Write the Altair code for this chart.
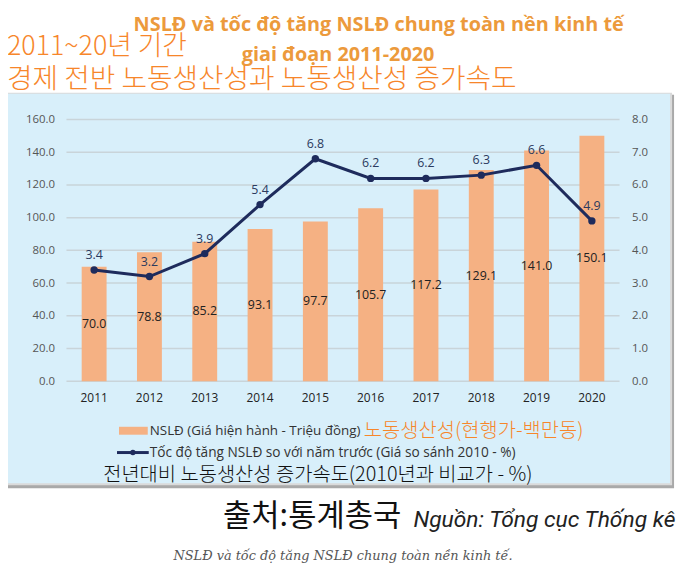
import altair as alt
import pandas as pd

years = ["2011", "2012", "2013", "2014", "2015", "2016", "2017", "2018", "2019", "2020"]
nsld = [70.0, 78.8, 85.2, 93.1, 97.7, 105.7, 117.2, 129.1, 141.0, 150.1]
growth = [3.4, 3.2, 3.9, 5.4, 6.8, 6.2, 6.2, 6.3, 6.6, 4.9]
left_ticks = [0, 20, 40, 60, 80, 100, 120, 140, 160]
right_ticks = [0, 1, 2, 3, 4, 5, 6, 7, 8]

df = pd.DataFrame({"year": years, "nsld": nsld, "growth": growth})
grid_df = pd.DataFrame({"t": left_ticks})

BAR = "#F5B183"
NAVY = "#1E2B5C"
PANEL = "#D8EFFA"
ORANGE_T = "#EC9A3C"
ORANGE_K = "#F7862A"

W, H = 558, 264

xenc = alt.X("year:N", sort=years, title=None,
             scale=alt.Scale(paddingInner=0.55, paddingOuter=0.275),
             axis=alt.Axis(labelAngle=0, ticks=False, domain=False, labelColor="#222",
                           labelFontSize=12, labelPadding=12, labelFont="Open Sans",
                           grid=False, zindex=1))

base = alt.Chart(df)

gridlines = alt.Chart(grid_df).mark_rule(color="#C9D4D9", strokeWidth=1.5).encode(
    y=alt.Y("t:Q", scale=alt.Scale(domain=[0, 160]), axis=None)
)

bars = base.mark_bar(color=BAR).encode(
    x=xenc,
    y=alt.Y("nsld:Q", title=None, scale=alt.Scale(domain=[0, 160]),
            axis=alt.Axis(orient="left", values=left_ticks, format=".1f", ticks=False, domain=False,
                          grid=False, labelColor="#555", labelFontSize=11.5,
                          labelPadding=12, labelFont="Open Sans", zindex=1)),
)

bar_labels = base.transform_calculate(mid="datum.nsld / 2").mark_text(
    fontSize=12.5, color="#222", font="Open Sans"
).encode(
    x=alt.X("year:N", sort=years),
    y=alt.Y("mid:Q", scale=alt.Scale(domain=[0, 160]), axis=None),
    text=alt.Text("nsld:Q", format=".1f"),
)

line = base.mark_line(color=NAVY, strokeWidth=3).encode(
    x=alt.X("year:N", sort=years),
    y=alt.Y("growth:Q", title=None, scale=alt.Scale(domain=[0, 8]),
            axis=alt.Axis(orient="right", values=right_ticks, format=".1f", ticks=False, domain=False,
                          grid=False, labelColor="#555", labelFontSize=11.5, labelPadding=12,
                          labelFont="Open Sans", zindex=1)),
)

points = base.mark_point(filled=True, color=NAVY, size=55, opacity=1).encode(
    x=alt.X("year:N", sort=years),
    y=alt.Y("growth:Q", scale=alt.Scale(domain=[0, 8]), axis=None),
)

line_labels = base.mark_text(fontSize=12.5, color="#2B3A5E", dy=-15, font="Open Sans").encode(
    x=alt.X("year:N", sort=years),
    y=alt.Y("growth:Q", scale=alt.Scale(domain=[0, 8]), axis=None),
    text=alt.Text("growth:Q", format=".1f"),
)

one = pd.DataFrame({"a": [0]})
ann = alt.Chart(one)


def rect(x, x2, y, y2, color):
    return ann.mark_rect(color=color).encode(
        x=alt.value(x), x2=alt.value(x2), y=alt.value(y), y2=alt.value(y2))


def txt(s, x, y, size, color, align="left", font="Open Sans", weight="normal", style="normal"):
    return ann.mark_text(text=s, fontSize=size, color=color, align=align, baseline="middle",
                         font=font, fontWeight=weight, fontStyle=style).encode(
        x=alt.value(x), y=alt.value(y))


shadow = rect(-59, 613, -25, 372, "#A9A9A9")
shadow2 = rect(-60, 611, -27, 369, "#DADADA")
panel = rect(-60, 609, -26, 367, PANEL)

swatch = rect(53, 82, 310, 318, BAR)
leg_line = ann.mark_rule(color=NAVY, strokeWidth=3).encode(
    x=alt.value(51), x2=alt.value(83), y=alt.value(336))
leg_dot = ann.mark_point(filled=True, color=NAVY, size=30, opacity=1).encode(
    x=alt.value(67), y=alt.value(336))

texts = [
    txt("NSLĐ và tốc độ tăng NSLĐ chung toàn nền kinh tế", 315, -95, 20, ORANGE_T,
        align="center", font="Open Sans", weight="bold"),
    txt("giai đoạn 2011-2020", 274, -65, 20, ORANGE_T, align="center", font="Open Sans", weight="bold"),
    txt("2011~20년 기간", -60, -73, 27, ORANGE_K, font="Noto Sans CJK KR", weight=300),
    txt("경제 전반 노동생산성과 노동생산성 증가속도", -60, -40, 28, ORANGE_K, font="Noto Sans CJK KR", weight=300),
    txt("NSLĐ (Giá hiện hành - Triệu đồng)", 84, 314, 13.5, "#333"),
    txt("노동생산성(현행가-백만동)", 300, 314, 20, ORANGE_K, font="Noto Sans CJK KR", weight=300),
    txt("Tốc độ tăng NSLĐ so với năm trước (Giá so sánh 2010 - %)", 84, 336, 13.8, "#333"),
    txt("전년대비 노동생산성 증가속도(2010년과 비교가 - %)", 37, 359, 20, "#111",
        font="Noto Sans CJK KR", weight=300),
    txt("출처:통계총국", 158, 401, 31, "#111", font="Noto Sans CJK KR"),
    txt("Nguồn: Tổng cục Thống kê", 350, 404, 23, "#222", font="Roboto", style="italic"),
    txt("NSLĐ và tốc độ tăng NSLĐ chung toàn nền kinh tế.", 108, 440, 13, "#555",
        font="DejaVu Serif", style="italic"),
]

chart = alt.layer(
    shadow, shadow2, panel, gridlines, bars, bar_labels, line, points, line_labels,
    swatch, leg_line, leg_dot, *texts
).resolve_scale(y="independent").properties(
    width=W, height=H,
    autosize=alt.AutoSizeParams(type="none"),
    padding={"left": 59, "top": 110, "right": 60, "bottom": 190},
    background="white",
).configure_view(stroke=None)

chart.save("out.html", embed_options={"renderer": "svg", "actions": False})
